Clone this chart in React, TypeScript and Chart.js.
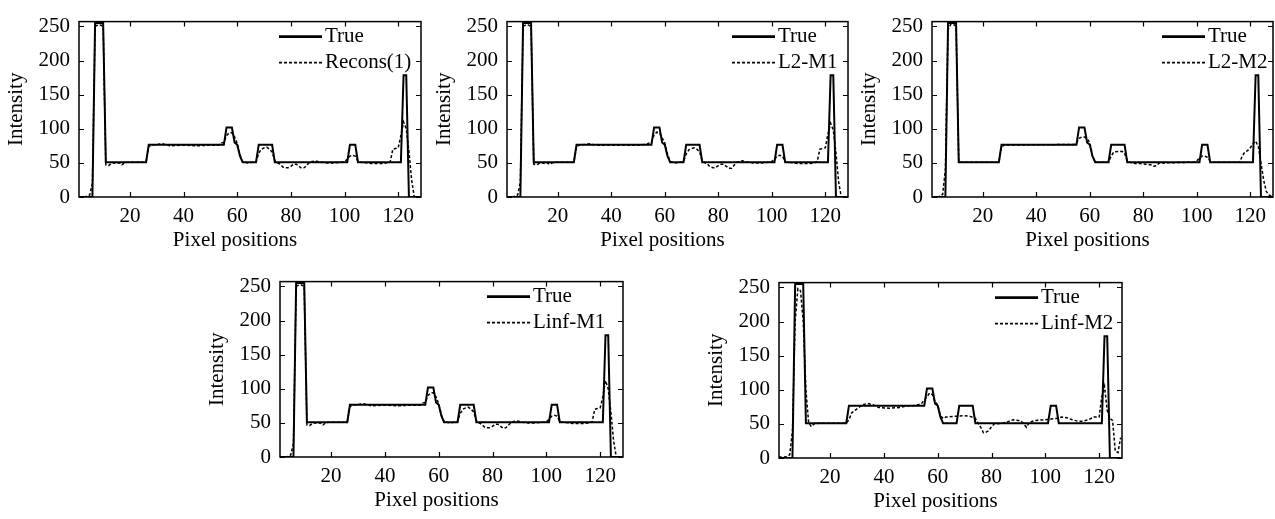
import React, { useEffect, useRef } from 'react';
import { Chart, registerables } from 'chart.js';

Chart.register(...registerables);

// ---------- data ----------
const xTickValues = [20, 40, 60, 80, 100, 120];
const yTickValues = [0, 50, 100, 150, 200, 250];
const xTitleText = 'Pixel positions';
const yTitleText = 'Intensity';
const trueLabel = 'True';

// true scan line: [pixel position, intensity]
const trueSeries: number[][] = [
  [1, 0], [6, 0], [7, 255], [10, 255], [11, 51], [26, 51], [27, 76.5], [55, 76.5],
  [56, 102], [58, 102], [59, 80], [60, 76.5], [61, 60], [62, 51], [67, 51], [68, 76.5],
  [73, 76.5], [74, 51], [101, 51], [102, 76.5], [104, 76.5], [105, 51], [121, 51],
  [122, 178.5], [123, 178.5], [124, 0], [128, 0],
];

const recons1: number[][] = [
  [1, 0], [3, 0], [4, 1], [5, 3], [6, 20], [7, 250], [8, 252], [9, 252], [10, 250], [11, 47],
  [12, 46], [13, 49], [14, 50], [15, 49], [16, 50], [17, 47], [18, 50], [19, 51], [26, 51],
  [27, 74], [28, 76], [30, 77], [32, 78], [33, 77], [35, 75], [40, 76], [45, 75], [50, 76],
  [53, 76], [54, 79], [55, 80], [56, 90], [57, 94], [58, 94], [59, 88], [60, 78], [61, 62],
  [62, 52], [63, 51], [64, 50], [66, 51], [67, 52], [68, 64], [69, 70], [70, 72], [71, 73],
  [72, 70], [73, 66], [74, 53], [75, 50], [76, 48], [77, 44], [78, 43], [79, 43], [80, 45],
  [81, 48], [82, 48], [83, 45], [84, 42], [85, 43], [86, 47], [87, 51], [88, 52], [89, 53],
  [90, 52], [91, 51], [93, 50], [96, 50], [99, 51], [100, 52], [101, 55], [102, 60], [103, 61],
  [104, 60], [105, 52], [106, 51], [108, 50], [110, 49], [112, 49], [114, 49], [116, 50],
  [117, 51], [118, 70], [119, 71], [120, 72], [121, 90], [122, 110], [123, 100], [124, 67],
  [125, 25], [126, 0], [128, 0],
];

const l2m1: number[][] = [
  [1, 0], [3, 0], [4, 1], [5, 3], [6, 22], [7, 250], [8, 252], [9, 252], [10, 250], [11, 48],
  [12, 47], [13, 49], [14, 50], [15, 49], [16, 50], [17, 48], [18, 50], [19, 51], [26, 51],
  [27, 74], [28, 76], [30, 77], [32, 78], [33, 77], [35, 76], [40, 76], [45, 76], [50, 76],
  [53, 77], [54, 79], [55, 80], [56, 91], [57, 95], [58, 94], [59, 87], [60, 79], [61, 63],
  [62, 52], [63, 51], [64, 50], [66, 51], [67, 52], [68, 63], [69, 69], [70, 71], [71, 72],
  [72, 70], [73, 66], [74, 53], [75, 50], [76, 48], [77, 44], [78, 43], [79, 43], [80, 46],
  [81, 48], [82, 48], [83, 45], [84, 42], [85, 42], [86, 47], [87, 51], [88, 52], [89, 53],
  [90, 52], [91, 51], [93, 50], [96, 50], [99, 51], [100, 52], [101, 55], [102, 60], [103, 61],
  [104, 60], [105, 52], [106, 51], [108, 50], [110, 49], [112, 49], [114, 49], [116, 50],
  [117, 52], [118, 70], [119, 71], [120, 72], [121, 92], [122, 108], [123, 98], [124, 65],
  [125, 22], [126, 0], [128, 0],
];

const l2m2: number[][] = [
  [1, 0], [3, 0], [4, 1], [5, 4], [6, 40], [7, 245], [8, 253], [9, 253], [10, 250], [11, 52],
  [12, 51], [26, 51], [27, 73], [28, 76], [54, 77], [55, 79], [56, 86], [57, 88], [58, 88],
  [59, 85], [60, 80], [61, 60], [62, 52], [63, 51], [67, 51], [68, 60], [69, 66], [72, 67],
  [73, 64], [74, 53], [75, 51], [77, 49], [79, 49], [81, 48], [83, 47], [84, 45], [85, 46],
  [86, 50], [88, 50], [99, 51], [100, 53], [101, 57], [102, 60], [103, 60], [104, 58],
  [105, 53], [106, 51], [116, 51], [117, 60], [118, 66], [119, 68], [120, 72], [121, 78],
  [122, 82], [123, 74], [124, 50], [125, 25], [126, 8], [127, 3], [128, 1],
];

const linfm1: number[][] = [
  [1, 0], [3, 0], [4, 1], [5, 3], [6, 20], [7, 250], [8, 252], [9, 252], [10, 250], [11, 47],
  [12, 46], [13, 49], [14, 50], [15, 49], [16, 50], [17, 47], [18, 50], [19, 51], [26, 51],
  [27, 74], [28, 76], [30, 77], [32, 78], [33, 77], [35, 75], [40, 76], [45, 75], [50, 76],
  [53, 76], [54, 79], [55, 80], [56, 90], [57, 94], [58, 94], [59, 88], [60, 78], [61, 62],
  [62, 52], [63, 51], [64, 50], [66, 51], [67, 52], [68, 64], [69, 70], [70, 72], [71, 73],
  [72, 70], [73, 66], [74, 53], [75, 50], [76, 48], [77, 44], [78, 43], [79, 43], [80, 45],
  [81, 48], [82, 48], [83, 45], [84, 42], [85, 43], [86, 47], [87, 51], [88, 52], [89, 53],
  [90, 52], [91, 51], [93, 50], [96, 50], [99, 51], [100, 52], [101, 55], [102, 60], [103, 61],
  [104, 60], [105, 52], [106, 51], [108, 50], [110, 49], [112, 49], [114, 49], [116, 50],
  [117, 51], [118, 70], [119, 71], [120, 72], [121, 88], [122, 112], [123, 100], [124, 66],
  [125, 24], [126, 0], [128, 0],
];

const linfm2: number[][] = [
  [1, 2], [2, 1], [4, 2], [5, 5], [6, 40], [7, 200], [8, 248], [9, 245], [10, 200], [11, 100],
  [12, 52], [13, 46], [14, 50], [16, 51], [26, 51], [27, 56], [28, 66], [30, 72], [32, 78],
  [34, 80], [36, 78], [38, 74], [42, 73], [46, 74], [48, 76], [52, 77], [54, 80], [55, 85],
  [56, 90], [57, 95], [58, 93], [59, 82], [60, 78], [61, 62], [62, 58], [63, 60], [66, 61],
  [70, 62], [72, 61], [74, 58], [75, 51], [76, 45], [77, 37], [78, 38], [79, 40], [80, 46],
  [81, 50], [84, 51], [86, 53], [88, 56], [90, 55], [91, 54], [92, 50], [93, 45], [94, 52],
  [96, 55], [100, 56], [102, 57], [104, 58], [106, 60], [108, 59], [110, 56], [112, 54],
  [114, 54], [116, 56], [118, 60], [120, 60], [121, 90], [122, 105], [123, 70], [124, 58],
  [125, 55], [126, 10], [127, 8], [128, 30],
];

// ---------- layout ----------
const FONT_FAMILY = '"Liberation Serif", "Times New Roman", serif';
const FONT_SIZE = 21;
const X_MIN = 1;
const X_MAX = 128.5;
const Y_MIN = 0;
const Y_MAX = 257;

type PanelCfg = {
  label: string;
  series: number[][];
  L: number; T: number; R: number; B: number;
  legendDx: number;
};

const panels: PanelCfg[] = [
  { label: 'Recons(1)', series: recons1, L: 79, T: 17, R: 421, B: 197, legendDx: 142 },
  { label: 'L2-M1', series: l2m1, L: 507, T: 17, R: 848, B: 197, legendDx: 116 },
  { label: 'L2-M2', series: l2m2, L: 932, T: 17, R: 1273, B: 197, legendDx: 111 },
  { label: 'Linf-M1', series: linfm1, L: 280, T: 277, R: 623, B: 457, legendDx: 136 },
  { label: 'Linf-M2', series: linfm2, L: 779, T: 278, R: 1122, B: 458, legendDx: 127 },
];

const Y_AXIS_W = 79;
const X_AXIS_H = 62;
const PAD_TOP = 17;
const PAD_RIGHT = 2;

function toPoints(arr: number[][]) {
  return arr.map(([x, y]) => ({ x, y }));
}

function makeFramePlugin(cfg: PanelCfg) {
  return {
    id: 'frameLegend',
    afterDraw(chart: any) {
      const { ctx, chartArea } = chart;
      const { left, right, top, bottom } = chartArea;
      const xs = chart.scales.x;
      const ys = chart.scales.y;
      ctx.save();
      ctx.strokeStyle = '#000';
      ctx.lineWidth = 1.5;
      ctx.setLineDash([]);
      ctx.strokeRect(left, top, right - left, bottom - top);
      ctx.lineWidth = 1.2;
      const tl = 5;
      ctx.beginPath();
      xTickValues.forEach((v) => {
        const px = Math.round(xs.getPixelForValue(v)) + 0.5;
        ctx.moveTo(px, bottom); ctx.lineTo(px, bottom - tl);
        ctx.moveTo(px, top); ctx.lineTo(px, top + tl);
      });
      yTickValues.forEach((v) => {
        const py = Math.round(ys.getPixelForValue(v)) + 0.5;
        ctx.moveTo(left, py); ctx.lineTo(left + tl, py);
        ctx.moveTo(right, py); ctx.lineTo(right - tl, py);
      });
      ctx.stroke();

      // legend
      const x0 = right - cfg.legendDx;
      const rows = [
        { text: trueLabel, dash: [] as number[], w: 2.6, y: top + 15 },
        { text: cfg.label, dash: [3, 2], w: 1.6, y: top + 41 },
      ];
      ctx.font = `${FONT_SIZE}px ${FONT_FAMILY}`;
      ctx.fillStyle = '#000';
      ctx.textBaseline = 'middle';
      ctx.textAlign = 'left';
      rows.forEach((r) => {
        ctx.beginPath();
        ctx.setLineDash(r.dash);
        ctx.lineWidth = r.w;
        ctx.moveTo(x0, r.y);
        ctx.lineTo(x0 + 43, r.y);
        ctx.stroke();
        ctx.setLineDash([]);
        ctx.fillText(r.text, x0 + 46, r.y);
      });

      // x axis title
      ctx.textAlign = 'center';
      ctx.fillText(xTitleText, (left + right) / 2 - 15, bottom + 43.5);
      ctx.restore();
    },
  };
}

function Panel({ cfg }: { cfg: PanelCfg }) {
  const ref = useRef<HTMLCanvasElement>(null);
  const W = cfg.R - cfg.L + Y_AXIS_W + PAD_RIGHT;
  const H = cfg.B - cfg.T + PAD_TOP + X_AXIS_H;

  useEffect(() => {
    if (!ref.current) return;
    const font = { family: FONT_FAMILY, size: FONT_SIZE };
    const chart = new Chart(ref.current, {
      type: 'line',
      data: {
        datasets: [
          {
            label: trueLabel,
            data: toPoints(trueSeries),
            borderColor: '#000',
            borderWidth: 2,
            pointRadius: 0,
            fill: false,
            tension: 0,
          },
          {
            label: cfg.label,
            data: toPoints(cfg.series),
            borderColor: '#000',
            borderWidth: 1.5,
            borderDash: [3, 2],
            pointRadius: 0,
            fill: false,
            tension: 0,
          },
        ],
      },
      options: {
        responsive: false,
        maintainAspectRatio: false,
        animation: false,
        events: [],
        layout: { padding: { left: 0, top: PAD_TOP, right: PAD_RIGHT, bottom: 0 } },
        plugins: {
          legend: { display: false },
          tooltip: { enabled: false },
          title: { display: false },
        },
        scales: {
          x: {
            type: 'linear',
            min: X_MIN,
            max: X_MAX,
            grid: { display: false, drawTicks: false },
            border: { display: false },
            ticks: {
              padding: 7,
              font,
              color: '#000',
              autoSkip: false,
              maxRotation: 0,
              minRotation: 0,
              callback: (v: any) => String(v),
            },
            afterBuildTicks: (s: any) => {
              s.ticks = xTickValues.map((v) => ({ value: v }));
            },
            afterFit: (s: any) => {
              s.height = X_AXIS_H;
            },
          },
          y: {
            type: 'linear',
            min: Y_MIN,
            max: Y_MAX,
            grid: { display: false, drawTicks: false },
            border: { display: false },
            ticks: {
              padding: 9,
              font,
              color: '#000',
              autoSkip: false,
              callback: (v: any) => String(v),
            },
            afterBuildTicks: (s: any) => {
              s.ticks = yTickValues.map((v) => ({ value: v }));
            },
            title: {
              display: true,
              text: yTitleText,
              font,
              color: '#000',
              padding: { top: 4, bottom: 0 },
            },
            afterFit: (s: any) => {
              s.width = Y_AXIS_W;
            },
          },
        },
      },
      plugins: [makeFramePlugin(cfg)],
    } as any);
    return () => chart.destroy();
  }, [cfg]);

  return (
    <canvas
      ref={ref}
      width={W}
      height={H}
      style={{
        position: 'absolute',
        left: cfg.L - Y_AXIS_W,
        top: cfg.T - PAD_TOP,
        width: W,
        height: H,
        display: 'block',
      }}
    />
  );
}

export default function App() {
  return (
    <div
      style={{
        position: 'absolute',
        left: 0,
        top: 0,
        width: 1275,
        height: 519,
        overflow: 'hidden',
        background: '#fff',
      }}
    >
      {panels.map((p) => (
        <Panel key={p.label} cfg={p} />
      ))}
    </div>
  );
}
